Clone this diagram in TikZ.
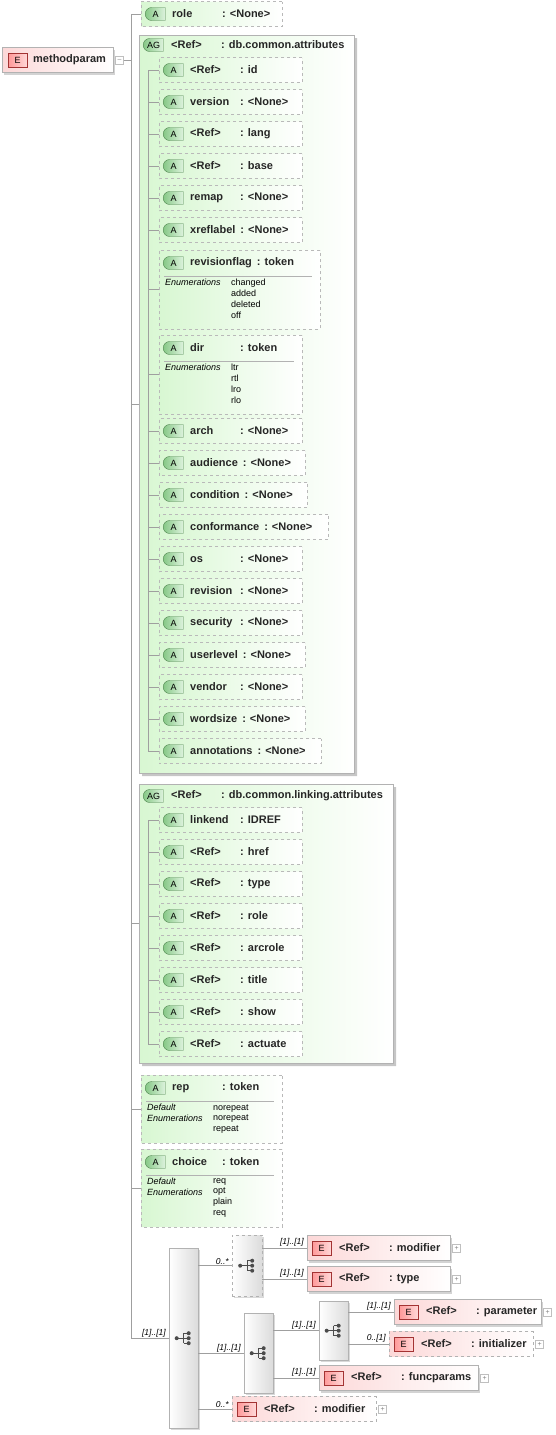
\documentclass[tikz,border=0pt]{standalone}
\usepackage{fontspec}
\setmainfont{Liberation Sans}
\usetikzlibrary{shapes.misc,shadows,positioning}

\definecolor{tagdark}{HTML}{86C886}
\definecolor{taglight}{HTML}{DDF3DD}
\definecolor{attrfill}{HTML}{D8F7D2}
\definecolor{elemfill}{HTML}{FCD8D8}

% name column of a row: at least 50pt wide
\newlength\colwd
\newcommand\colname[1]{\settowidth\colwd{#1}\ifdim\colwd<45pt\makebox[50pt][l]{#1}\else\makebox[\dimexpr\colwd+5pt\relax][l]{#1}\fi}

% one attribute row hanging from a spine
\newcommand\attrow[7]{%
  \node[attrbox, minimum width={#5-#3}] (#2) at (#3,#4) {};
  \node[atag] (#2-tag) at ([xshift=4pt]#2.west) {A};
  \node[ename] (#2-txt) at ([xshift=31pt]#2.west) {\colname{#6}: #7};
  \draw[conn] (#2.west) -- (#2.west -| #1);
}

% attribute with enumerations (type token)
\newcommand\enumbox[9]{%
  \node[attrbox, minimum width={#6-#3}, minimum height=#5] (#2) at (#3,{#4+#5/2}) {};
  \node[atag] (#2-tag) at ({#3+4},{#4+13}) {A};
  \node[ename] (#2-txt) at ({#3+31},{#4+13}) {\colname{#7}: token};
  \draw[sepline] ({#3+5},{#4+26}) -- ({#6-8},{#4+26});
  \node[enumlbl] (#2-lbl) at ({#3+6},{#4+29}) {#8};
  \node[enumval] (#2-val) at ({#3+72},{#4+29}) {#9};
  \draw[conn] (#2.west) -- (#2.west -| #1);
}

% element row with expand box
\newcommand\elemrow[6]{%
  \node[#6, minimum width={#4-#2}] (#1) at (#2,#3) {};
  \node[etag] (#1-tag) at ([xshift=5pt]#1.west) {E};
  \node[ename] (#1-txt) at ([xshift=32pt]#1.west) {\colname{<Ref>}: #5};
  \node[plusbox] (#1-exp) at ([xshift=2pt]#1.east) {+};
}

% compositor icon
\newcommand\seqicon[1]{%
  \begin{scope}[shift={(#1.center)}]
    \draw[black!70, line width=.8pt] (-7,0) -- (0,0) (0,-5) -- (0,5) (0,-5) -- (5,-5) (0,5) -- (5,5) (0,0) -- (5,0);
    \fill[black!70] (-7,0) circle (2pt) (5,-5) circle (2pt) (5,0) circle (2pt) (5,5) circle (2pt);
  \end{scope}}

\tikzset{
  conn/.style={draw=gray!75, line width=.6pt},
  sepline/.style={draw=gray!60, line width=.5pt},
  ename/.style={font=\fontsize{11}{12}\selectfont\bfseries, text=black!85, inner sep=0pt, anchor=west},
  enumlbl/.style={font=\fontsize{9}{10.8}\selectfont\itshape, align=left, inner sep=0pt, anchor=north west},
  enumval/.style={font=\fontsize{9}{10.8}\selectfont, align=left, inner sep=0pt, anchor=north west},
  card/.style={font=\fontsize{8.5}{9}\selectfont\itshape, inner sep=1pt, anchor=south east, xshift=-2pt},
  attrbox/.style={chamfered rectangle, chamfered rectangle sep=4pt, draw=gray!55, dashed,
    left color=attrfill, right color=white, minimum height=25, inner sep=0pt, anchor=west},
  agbox/.style={chamfered rectangle, chamfered rectangle sep=6pt,
    chamfered rectangle corners={north west,south west}, draw=gray!60,
    left color=attrfill, right color=white, inner sep=0pt, anchor=west,
    drop shadow={shadow xshift=3pt, shadow yshift=-3pt, opacity=.45}},
  atag/.style={rounded rectangle, rounded rectangle right arc=none, draw=green!30!black!70,
    left color=tagdark, right color=taglight, minimum width=20, minimum height=13,
    inner sep=0pt, font=\fontsize{9}{9}\selectfont, anchor=west},
  etag/.style={rectangle, draw=red!55!black!80, left color=red!40, right color=red!15,
    minimum width=19, minimum height=14, inner sep=0pt, font=\fontsize{9}{9}\selectfont, anchor=west},
  elembox/.style={rectangle, draw=gray!60, left color=elemfill, right color=white,
    minimum height=25, inner sep=0pt, anchor=west,
    drop shadow={shadow xshift=2pt, shadow yshift=-2pt, opacity=.35}},
  optelem/.style={rectangle, draw=gray!60, dashed, left color=elemfill, right color=white,
    minimum height=25, inner sep=0pt, anchor=west},
  plusbox/.style={draw=gray!50, minimum size=8, inner sep=0pt, text=gray,
    font=\fontsize{7}{7}\selectfont, anchor=west},
  compbox/.style={rectangle, draw=gray!60, left color=white, right color=gray!28,
    inner sep=0pt, anchor=north west,
    drop shadow={shadow xshift=2pt, shadow yshift=-2pt, opacity=.3}},
}

\begin{document}
\begin{tikzpicture}[x=1pt, y=-1pt]
    \useasboundingbox (0,0) rectangle (555,1435);

    % Root element
    \node[elembox, minimum width=111] (root) at (2,60) {};
    \node[etag] (root-tag) at ([xshift=6pt]root.west) {E};
    \node[ename] (root-txt) at ([xshift=31pt]root.west) {methodparam};
    \node[plusbox] (root-col) at ([xshift=2pt]root.east) {--};
    \coordinate (trunk) at (131,60);
    \coordinate (trunk-top) at (131,14);
    \draw[conn] (root-col) -- (trunk);

    % role
    \attrow{trunk}{role}{141}{14}{282}{role}{<None>}

    % db.common.attributes
    \node[agbox, minimum width=215, minimum height=738] (agA) at (139,404) {};
    \node[atag] (agA-tag) at (143,45) {AG};
    \node[ename] (agA-txt) at (171,45) {\colname{<Ref>}: db.common.attributes};
    \draw[conn] (agA.west) -- (agA.west -| trunk);
    \coordinate (spineA) at (148,70);
    \coordinate (spineA-end) at (148,751);
    \draw[conn] (spineA) -- (spineA-end);
    \foreach \id/\y/\r/\nm/\ty in {a-id/70/302/<Ref>/id, a-version/102/302/version/<None>,
        a-lang/134/302/<Ref>/lang, a-base/166/302/<Ref>/base, a-remap/198/302/remap/<None>,
        a-xreflabel/230/302/xreflabel/<None>, a-arch/431/302/arch/<None>,
        a-audience/463/305/audience/<None>, a-condition/495/307/condition/<None>,
        a-conformance/527/328/conformance/<None>, a-os/559/302/os/<None>,
        a-revision/591/302/revision/<None>, a-security/623/302/security/<None>,
        a-userlevel/655/305/userlevel/<None>, a-vendor/687/302/vendor/<None>,
        a-wordsize/719/305/wordsize/<None>, a-annotations/751/321/annotations/<None>}
      {\attrow{spineA}{\id}{159}{\y}{\r}{\nm}{\ty}}
    \enumbox{spineA}{a-revisionflag}{159}{250}{79}{320}{revisionflag}{Enumerations}{changed\\added\\deleted\\off}
    \enumbox{spineA}{a-dir}{159}{335}{79}{302}{dir}{Enumerations}{ltr\\rtl\\lro\\rlo}

    % db.common.linking.attributes
    \node[agbox, minimum width=254, minimum height=279] (agB) at (139,923.5) {};
    \node[atag] (agB-tag) at (143,796) {AG};
    \node[ename] (agB-txt) at (171,796) {\colname{<Ref>}: db.common.linking.attributes};
    \draw[conn] (agB.west) -- (agB.west -| trunk);
    \coordinate (spineB) at (148,820);
    \coordinate (spineB-end) at (148,1044);
    \draw[conn] (spineB) -- (spineB-end);
    \foreach \id/\y/\nm/\ty in {b-linkend/820/linkend/IDREF, b-href/852/<Ref>/href,
        b-type/884/<Ref>/type, b-role/916/<Ref>/role, b-arcrole/948/<Ref>/arcrole,
        b-title/980/<Ref>/title, b-show/1012/<Ref>/show, b-actuate/1044/<Ref>/actuate}
      {\attrow{spineB}{\id}{159}{\y}{302}{\nm}{\ty}}

    % rep, choice
    \enumbox{trunk}{rep}{141}{1075}{68}{282}{rep}{Default\\Enumerations}{norepeat\\norepeat\\repeat}
    \enumbox{trunk}{choice}{141}{1149}{78}{282}{choice}{Default\\Enumerations}{req\\opt\\plain\\req}

    % content model
    \node[compbox, minimum width=29, minimum height=180] (seqA) at (169,1248) {};
    \node[compbox, dashed, minimum width=30, minimum height=61] (choiceB) at (232,1235) {};
    \node[compbox, minimum width=29, minimum height=80] (seqC) at (244,1313) {};
    \node[compbox, minimum width=29, minimum height=59] (seqD) at (319,1301) {};
    \seqicon{seqA}
    \seqicon{choiceB}
    \seqicon{seqC}
    \seqicon{seqD}

    \elemrow{mod1}{307}{1248}{450}{modifier}{elembox}
    \elemrow{type}{307}{1279}{450}{type}{elembox}
    \elemrow{param}{394}{1312}{541}{parameter}{elembox}
    \elemrow{init}{389}{1344}{533}{initializer}{optelem}
    \elemrow{funcp}{319}{1378}{478}{funcparams}{elembox}
    \elemrow{mod2}{232}{1409}{376}{modifier}{optelem}

    \draw[conn] (trunk-top) -- (seqA.west -| trunk);
    \draw[conn] (seqA.west -| trunk) -- node[card, pos=1] {[1]..[1]} (seqA.west);
    \draw[conn] (choiceB.west -| seqA.east) -- node[card, pos=1] {0..*} (choiceB.west);
    \draw[conn] (seqC.west -| seqA.east) -- node[card, pos=1] {[1]..[1]} (seqC.west);
    \draw[conn] (mod2.west -| seqA.east) -- node[card, pos=1] {0..*} (mod2.west);
    \draw[conn] (mod1.west -| choiceB.east) -- node[card, pos=1] {[1]..[1]} (mod1.west);
    \draw[conn] (type.west -| choiceB.east) -- node[card, pos=1] {[1]..[1]} (type.west);
    \draw[conn] (seqD.west -| seqC.east) -- node[card, pos=1] {[1]..[1]} (seqD.west);
    \draw[conn] (funcp.west -| seqC.east) -- node[card, pos=1] {[1]..[1]} (funcp.west);
    \draw[conn] (param.west -| seqD.east) -- node[card, pos=1] {[1]..[1]} (param.west);
    \draw[conn] (init.west -| seqD.east) -- node[card, pos=1] {0..[1]} (init.west);
\end{tikzpicture}
\end{document}
